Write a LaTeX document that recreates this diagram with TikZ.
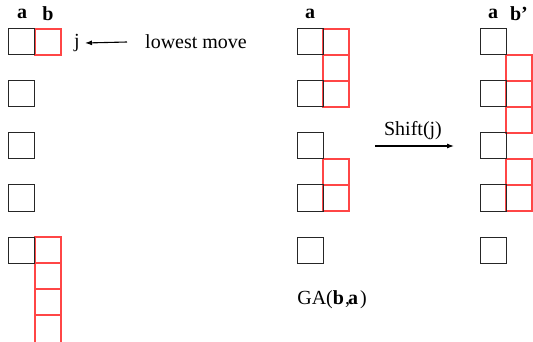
\documentclass[tikz,border=0pt]{standalone}
\usepackage{fontspec}
\setmainfont{Liberation Serif}
\usetikzlibrary{arrows.meta}
\definecolor{cellred}{RGB}{255,70,70}
\begin{document}
\begin{tikzpicture}[x=1pt,y=-1pt,
  blkcell/.style={draw=black!85, line width=1pt},
  redcell/.style={draw=cellred, line width=1.1pt},
  lbl/.style={inner sep=0pt, font=\fontsize{20}{24}\selectfont},
  hdr/.style={inner sep=0pt, font=\fontsize{20}{24}\selectfont\bfseries},
  arr/.style={line width=1.1pt, -{Latex[length=7pt,width=5pt]}}]
\useasboundingbox (0,0) rectangle (533,342);
% unit cell, top-left corner given
\newcommand\cellbox[3]{\draw[#1] (#2,#3) rectangle ++(26,26);}

% ---- left column pair: a and b ----
\node[hdr] (la) at (22,14) {a};
\node[hdr] (lb) at (48,14) {b};
% open-ended run of cells at the bottom of column b
\foreach \y in {237,263,289} {\cellbox{redcell}{35}{\y}}
\draw[redcell] (35,342) -- (35,315) -- (61,315) -- (61,342);
\cellbox{redcell}{35}{29}
\foreach \y in {29,81,133,185,237} {\cellbox{blkcell}{8}{\y}}
\node[lbl] (j) at (77,43) {j};
\node[lbl, anchor=west] (lm) at (145,42) {lowest move};
\draw[arr] ([xshift=-18pt]lm.west) -- ([xshift=5pt]j.east);

% ---- middle: GA(b,a) ----
\node[hdr] (ma) at (310,14) {a};
\foreach \y in {29,55,81,159,185} {\cellbox{redcell}{323}{\y}}
\foreach \y in {29,81,133,185,237} {\cellbox{blkcell}{297}{\y}}
\node[lbl] (ga) at (332,300) {GA(\textbf{b}\kern1pt,\kern-2pt\textbf{a}\kern2pt)};

% ---- shift arrow ----
\coordinate (s0) at (375,146);
\coordinate (s1) at (454,146);
\draw[arr] (s0) -- (s1);
\node[lbl] (sh) at (413,131) {Shift(j)};

% ---- right: a and b' ----
\node[hdr] (ra) at (493,14) {a};
\node[hdr] (rb) at (519,14) {b'};
\foreach \y in {55,81,107,159,185} {\cellbox{redcell}{506}{\y}}
\foreach \y in {29,81,133,185,237} {\cellbox{blkcell}{480}{\y}}
\end{tikzpicture}
\end{document}
